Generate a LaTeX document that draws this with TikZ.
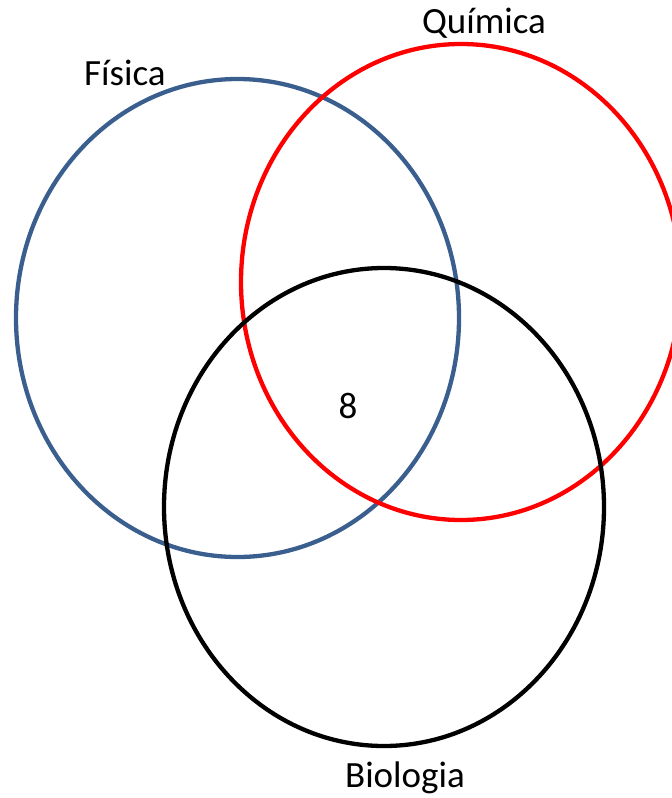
\documentclass[tikz,border=0pt]{standalone}
\usepackage{fontspec}
\setmainfont{Carlito}
\definecolor{fisblue}{HTML}{3A5F8F}
\begin{document}
\begin{tikzpicture}[x=1pt,y=-1pt,
  ring/.style={line width=4.3pt},
  lbl/.style={font=\fontsize{37}{42}\selectfont, anchor=base, inner sep=0pt}]
\useasboundingbox (0,0) rectangle (672,798);
\clip (0,0) rectangle (672,798);
\draw[ring, fisblue] (237.5,318) ellipse [x radius=221.5, y radius=239];
\draw[ring, red] (461,282) ellipse [x radius=220, y radius=238];
\draw[ring, black] (384,507) ellipse [x radius=220, y radius=239];
\node[lbl] (fis) at (125,85) {Física};
\node[lbl] (qui) at (484,33) {Química};
\node[lbl] (bio) at (405,787) {Biologia};
\node[lbl] (n8) at (348,418) {8};
\end{tikzpicture}
\end{document}
